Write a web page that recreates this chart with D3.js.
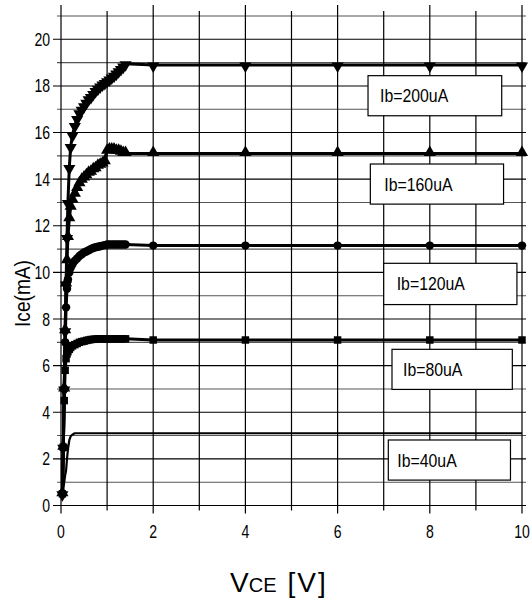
<!DOCTYPE html>
<html>
<head>
<meta charset="utf-8">
<script src="https://cdn.jsdelivr.net/npm/d3@7/dist/d3.min.js"></script>
<style>
  html, body { margin: 0; padding: 0; background: #fff; }
  svg { display: block; }
  text { font-family: "Liberation Sans", Arial, sans-serif; fill: #000; }
</style>
</head>
<body>
<svg id="chart" width="531" height="600"></svg>
<script>
// ---- data ----
const vce = [0.03,0.05,0.07,0.09,0.11,0.13,0.15,0.18,0.21,0.25,0.3,0.35,0.4,0.45,0.5,0.55,0.6,0.65,0.7,0.75,0.8,0.85,0.9,0.95,1.0,1.05,1.1,1.15,1.2,1.25,1.3,1.35,1.4,2,4,6,8,10];
const ice200 = [0.5,2.5,5,7.5,9.5,11.5,13,14.5,15.4,15.9,16.3,16.6,16.85,17.0,17.15,17.3,17.45,17.55,17.68,17.8,17.9,18.0,18.08,18.15,18.22,18.3,18.38,18.46,18.55,18.65,18.75,18.85,18.95,18.9,18.9,18.9,18.9,18.9];
const ice160 = [0.5,2.5,5,7.5,9.5,10.5,11.5,12.3,12.8,13.1,13.35,13.6,13.8,13.95,14.05,14.15,14.25,14.3,14.4,14.45,14.55,14.6,14.65,14.75,15.2,15.25,15.25,15.25,15.2,15.2,15.15,15.1,15.1,15.1,15.1,15.1,15.1,15.1];
const ice120 = [0.5,2.5,5,7,8.5,9.3,9.7,10.0,10.2,10.35,10.5,10.6,10.7,10.78,10.85,10.9,10.95,11.0,11.05,11.08,11.1,11.12,11.15,11.17,11.2,11.2,11.2,11.2,11.2,11.2,11.2,11.2,11.2,11.15,11.15,11.15,11.15,11.15];
const ice80  = [0.5,2.5,4.5,5.8,6.3,6.5,6.6,6.7,6.78,6.85,6.9,6.95,7.0,7.03,7.05,7.08,7.1,7.12,7.13,7.14,7.15,7.15,7.15,7.15,7.15,7.15,7.15,7.15,7.15,7.15,7.15,7.15,7.15,7.1,7.1,7.1,7.1,7.1];
const ice40  = [0.4,0.7,1.0,1.3,1.5,2.0,2.4,2.8,2.97,3.05,3.1,3.1,3.1,3.1,3.1,3.1,3.1,3.1,3.1,3.1,3.1,3.1,3.1,3.1,3.1,3.1,3.1,3.1,3.1,3.1,3.1,3.1,3.1,3.1,3.1,3.1,3.1,3.1];
const seriesNames = ["Ib=200uA","Ib=160uA","Ib=120uA","Ib=80uA","Ib=40uA"];
const seriesMarkers = ["triangleDown","triangle","circle","square","none"];
const xTicks = [0,2,4,6,8,10];
const yTicks = [0,2,4,6,8,10,12,14,16,18,20];
// label box placement anchors in data units (V, mA): left, top, right, bottom
const labelBoxes = [
  [6.66, 18.44, 9.56, 16.72],
  [6.71, 14.65, 9.60, 12.93],
  [7.00, 10.39, 9.89, 8.62],
  [7.18, 6.70, 9.79, 4.98],
  [7.10, 2.81, 9.75, 1.09]
];

// ---- chart ----
const svg = d3.select("#chart");
const x = d3.scaleLinear().domain([0, 10]).range([61, 522]);
const y = d3.scaleLinear().domain([0, 21]).range([505.5, 16]);

function narrow(parent, tx, ty, str, size, sx, anchor, rot) {
  return parent.append("text")
    .attr("transform", `translate(${tx},${ty})` + (rot ? ` rotate(${rot})` : "") + ` scale(${sx},1)`)
    .attr("text-anchor", anchor || "start")
    .attr("font-size", size)
    .text(str);
}

const grid = svg.append("g");
d3.range(0, 22).forEach(v => {
  const even = v % 2 === 0;
  grid.append("line")
    .attr("x1", even ? 53 : 57).attr("x2", 526)
    .attr("y1", y(v)).attr("y2", y(v))
    .attr("stroke", even ? "#000" : "#555")
    .attr("stroke-width", 1.1);
});
d3.range(0, 11).forEach(v => {
  const even = v % 2 === 0;
  grid.append("line")
    .attr("x1", x(v)).attr("x2", x(v))
    .attr("y1", even ? 5 : 11).attr("y2", y(0) + (even ? 8 : 5))
    .attr("stroke", "#000")
    .attr("stroke-width", 1.2);
});

// tick labels
const tl = svg.append("g");
xTicks.forEach(d => narrow(tl, x(d), 538, d, 18, 0.78, "middle"));
yTicks.forEach(d => narrow(tl, 50, y(d) + 6.5, d, 18, 0.78, "end"));

// curves
const currents = [ice200, ice160, ice120, ice80, ice40];
const line = d3.line().x(d => x(d[0])).y(d => y(d[1]));
currents.forEach((arr, k) => {
  const pts = vce.map((v, i) => [v, arr[i]]);
  svg.append("path")
    .attr("d", line(pts))
    .attr("fill", "none")
    .attr("stroke", "#000")
    .attr("stroke-width", k === 4 ? 2.2 : 3)
    .attr("stroke-linejoin", "round");
  const m = seriesMarkers[k];
  if (m === "none") return;
  let gen, rot = 0, dy = 0;
  if (m === "triangleDown") { gen = d3.symbol().type(d3.symbolTriangle).size(64); rot = 180; dy = 1; }
  else if (m === "triangle") { gen = d3.symbol().type(d3.symbolTriangle).size(64); dy = -1; }
  else if (m === "circle") gen = d3.symbol().type(d3.symbolCircle).size(56);
  else gen = d3.symbol().type(d3.symbolSquare).size(56);
  svg.append("g").selectAll("path").data(pts).join("path")
    .attr("d", gen())
    .attr("transform", d => `translate(${x(d[0])},${y(d[1]) + dy}) rotate(${rot})`)
    .attr("fill", "#000");
});

// label boxes
labelBoxes.forEach((b, k) => {
  const g = svg.append("g");
  g.append("rect")
    .attr("x", x(b[0])).attr("y", y(b[1]))
    .attr("width", x(b[2]) - x(b[0])).attr("height", y(b[3]) - y(b[1]))
    .attr("fill", "#fff").attr("stroke", "#000").attr("stroke-width", 1.2);
  const offs = [12, 14, 13, 11, 9];
  narrow(g, x(b[0]) + offs[k], (y(b[1]) + y(b[3])) / 2 + 6.5, seriesNames[k], 18, 0.88, "start");
});

// axis titles
narrow(svg, 30, 293.5, "Ice(mA)", 22, 0.87, "middle", -90);

const xt = svg.append("text")
  .attr("x", 230).attr("y", 592);
xt.append("tspan").attr("font-size", 28).text("V");
xt.append("tspan").attr("font-size", 20).text("CE");
xt.append("tspan").attr("font-size", 28).attr("dx", 11).attr("letter-spacing", 2).text("[V]");
</script>
</body>
</html>
